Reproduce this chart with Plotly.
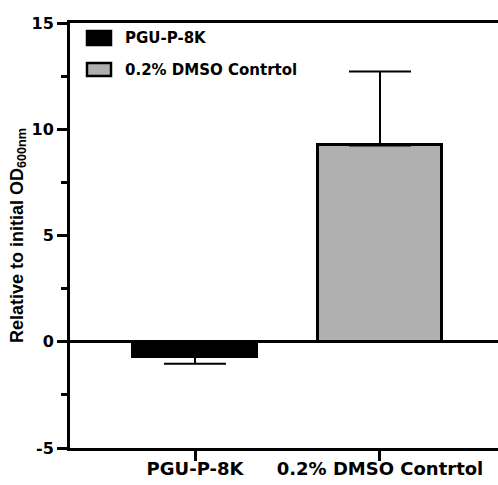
import plotly.graph_objects as go

# Data
categories = ["PGU-P-8K", "0.2% DMSO Contrtol"]
means = [-0.70, 9.24]
err_up = [0.0, 3.48]
err_down = [0.33, 0.0]
bar_colors = ["#000000", "#b0b0b0"]
y_ticks = [-5, 0, 5, 10, 15]
y_tick_text = ["-5", "0", "5", "10", "15"]

FONT = "DejaVu Sans"
TITLE_FONT = "Liberation Sans"
W, H = 498, 485
L, R, T, B = 70, 0, 23, 37
PW, PH = W - L - R, H - T - B


def px_to_paper_x(px):
    return (px - L) / PW


def px_to_paper_y(py):
    return (H - B - py) / PH


fig = go.Figure()
fig.add_trace(go.Bar(
    x=categories,
    y=means,
    width=0.67,
    marker=dict(color=bar_colors, line=dict(color="black", width=3)),
    error_y=dict(
        type="data",
        symmetric=False,
        array=err_up,
        arrayminus=err_down,
        color="black",
        thickness=2,
        width=31,
    ),
    showlegend=False,
))

# Legend drawn as boxes plus labels inside the plot area
legend_rows = [(31, 45, 38), (63, 76, 70)]
for (top, bot, mid), name, col in zip(legend_rows, categories, bar_colors):
    fig.add_shape(
        type="rect", xref="paper", yref="paper",
        x0=px_to_paper_x(87), x1=px_to_paper_x(111),
        y0=px_to_paper_y(bot), y1=px_to_paper_y(top),
        fillcolor=col, line=dict(color="black", width=2.5),
    )
    fig.add_annotation(
        xref="paper", yref="paper",
        x=px_to_paper_x(123), y=px_to_paper_y(mid),
        text=name, showarrow=False, xanchor="left", yanchor="middle",
        font=dict(family=FONT, size=15, color="black", weight="bold"),
    )

fig.update_layout(
    width=W, height=H,
    margin=dict(l=L, r=R, t=T, b=B),
    plot_bgcolor="white", paper_bgcolor="white",
    bargap=0,
)
fig.update_xaxes(
    range=[-0.676, 1.638],
    showline=True, linecolor="black", linewidth=3, mirror=True,
    ticks="outside", ticklen=10, tickwidth=3, tickcolor="black",
    ticklabelstandoff=-8,
    showgrid=False, zeroline=False,
    tickfont=dict(family=FONT, size=18, color="black", weight="bold"),
)
fig.update_yaxes(
    range=[-5, 15],
    tickvals=y_ticks, ticktext=y_tick_text,
    showline=True, linecolor="black", linewidth=3,
    ticks="outside", ticklen=10, tickwidth=3, tickcolor="black",
    minor=dict(dtick=2.5, tick0=0, ticks="outside", ticklen=6, tickwidth=3, tickcolor="black"),
    showgrid=False,
    zeroline=True, zerolinecolor="black", zerolinewidth=3,
    tickfont=dict(family=FONT, size=16, color="black", weight="bold"),
    title=dict(
        text="Relative to initial OD<sub>600nm</sub>",
        font=dict(family=TITLE_FONT, size=18, color="black", weight="bold"),
        standoff=4,
    ),
)

fig.write_html("out.html")
